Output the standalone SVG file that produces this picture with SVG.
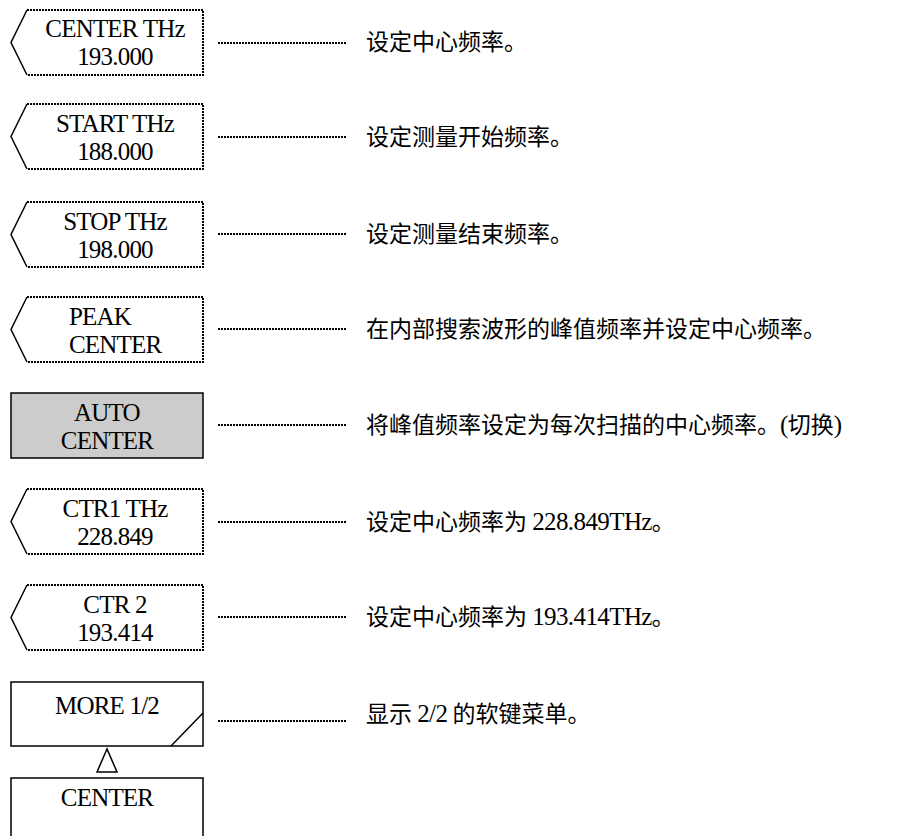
<svg xmlns="http://www.w3.org/2000/svg" width="905" height="836" viewBox="0 0 905 836">
<style>
.dash{fill:none;stroke:#000;stroke-width:2;stroke-dasharray:2 1;shape-rendering:crispEdges}
.solid{fill:none;stroke:#000;stroke-width:1.5}
.key{font-family:"Liberation Serif","Times New Roman",serif;font-size:25px;letter-spacing:-0.8px;fill:#000;text-anchor:middle}
.lbl{font-family:"Noto Sans CJK SC","Noto Sans",sans-serif;font-size:23px;fill:#000}
.lat{font-family:"Liberation Serif","Times New Roman",serif;font-size:25px;letter-spacing:-0.6px}
.conn{fill:none;stroke:#000;stroke-width:2;stroke-dasharray:2 1;shape-rendering:crispEdges}
</style>
<g id="k-center">
<path class="solid" d="M27,10 L11,42.5 L27,75"/><path class="dash" d="M27,10 H203 V75 H27"/>
<text class="key" x="115" y="37">CENTER THz</text><text class="key" x="115" y="65">193.000</text>
</g>
<g id="k-start">
<path class="solid" d="M27,104 L11,136.5 L27,169"/><path class="dash" d="M27,104 H203 V169 H27"/>
<text class="key" x="115" y="132">START THz</text><text class="key" x="115" y="160">188.000</text>
</g>
<g id="k-stop">
<path class="solid" d="M27,202 L11,234.5 L27,267"/><path class="dash" d="M27,202 H203 V267 H27"/>
<text class="key" x="115" y="230">STOP THz</text><text class="key" x="115" y="258">198.000</text>
</g>
<g id="k-peak">
<path class="solid" d="M27,297 L11,329.5 L27,362"/><path class="dash" d="M27,297 H203 V362 H27"/>
<text class="key" x="69" y="325" style="text-anchor:start">PEAK</text><text class="key" x="69" y="353" style="text-anchor:start">CENTER</text>
</g>
<g id="k-auto">
<rect x="11" y="393" width="192" height="65" fill="#cccccc" stroke="#000" stroke-width="1.5"/>
<text class="key" x="107" y="421">AUTO</text><text class="key" x="107" y="449">CENTER</text>
</g>
<g id="k-ctr1">
<path class="solid" d="M27,489 L11,521.5 L27,554"/><path class="dash" d="M27,489 H203 V554 H27"/>
<text class="key" x="115" y="517">CTR1 THz</text><text class="key" x="115" y="545">228.849</text>
</g>
<g id="k-ctr2">
<path class="solid" d="M27,585 L11,617.5 L27,650"/><path class="dash" d="M27,585 H203 V650 H27"/>
<text class="key" x="115" y="613">CTR 2</text><text class="key" x="115" y="641">193.414</text>
</g>
<g id="k-more">
<rect x="11" y="682" width="192" height="64" fill="none" stroke="#000" stroke-width="1.5"/>
<line x1="203" y1="713" x2="171" y2="746" stroke="#000" stroke-width="1.5"/>
<text class="key" x="107" y="714">MORE 1/2</text>
</g>
<g id="tri">
<polygon points="107,749 97,772 117,772" fill="none" stroke="#000" stroke-width="1.5"/>
</g>
<g id="k-center2">
<path class="solid" d="M11,840 V778 H203 V840"/>
<text class="key" x="107" y="806">CENTER</text>
</g>
<g id="connectors">
<line class="conn" x1="218" y1="43" x2="346" y2="43"/>
<line class="conn" x1="218" y1="137" x2="346" y2="137"/>
<line class="conn" x1="218" y1="234" x2="346" y2="234"/>
<line class="conn" x1="218" y1="329" x2="346" y2="329"/>
<line class="conn" x1="218" y1="425" x2="346" y2="425"/>
<line class="conn" x1="218" y1="522" x2="346" y2="522"/>
<line class="conn" x1="218" y1="617" x2="346" y2="617"/>
<line class="conn" x1="218" y1="721" x2="346" y2="721"/>
</g>
<g id="labels">
<text class="lbl" x="366" y="50">设定中心频率。</text>
<text class="lbl" x="366" y="145">设定测量开始频率。</text>
<text class="lbl" x="366" y="242">设定测量结束频率。</text>
<text class="lbl" x="366" y="337">在内部搜索波形的峰值频率并设定中心频率。</text>
<text class="lbl" x="366" y="433">将峰值频率设定为每次扫描的中心频率。<tspan class="lat">(</tspan>切换<tspan class="lat">)</tspan></text>
<text class="lbl" x="366" y="530">设定中心频率为 <tspan class="lat">228.849THz</tspan>。</text>
<text class="lbl" x="366" y="625">设定中心频率为 <tspan class="lat">193.414THz</tspan>。</text>
<text class="lbl" x="366" y="722">显示 <tspan class="lat">2/2</tspan> 的软键菜单。</text>
</g>
</svg>
